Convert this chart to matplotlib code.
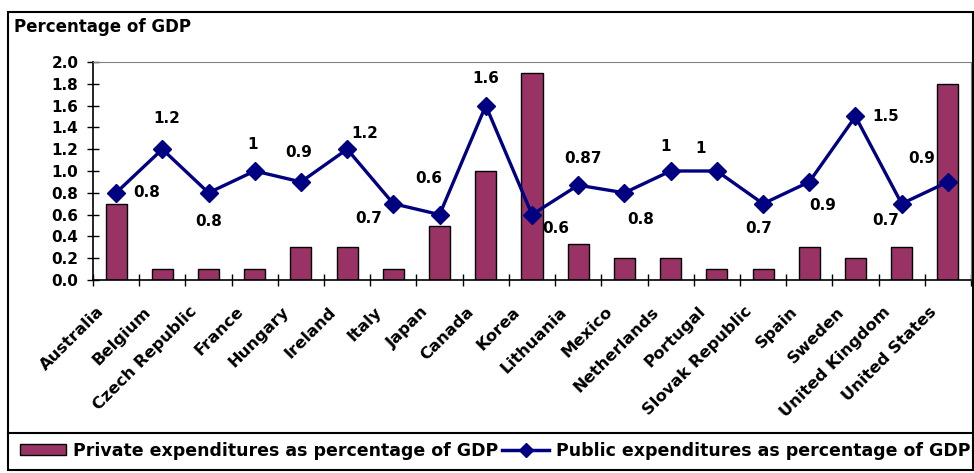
import numpy as np
import matplotlib; matplotlib.use('Agg'); import matplotlib.pyplot as plt
import matplotlib.transforms as mtransforms
from matplotlib.patches import Rectangle
from matplotlib.lines import Line2D

countries = ['Australia', 'Belgium', 'Czech Republic', 'France', 'Hungary', 'Ireland', 'Italy',
             'Japan', 'Canada', 'Korea', 'Lithuania', 'Mexico', 'Netherlands', 'Portugal',
             'Slovak Republic', 'Spain', 'Sweden', 'United Kingdom', 'United States']
private = [0.7, 0.1, 0.1, 0.1, 0.3, 0.3, 0.1, 0.5, 1.0, 1.9, 0.33, 0.2, 0.2, 0.1, 0.1, 0.3, 0.2, 0.3, 1.8]
public = [0.8, 1.2, 0.8, 1.0, 0.9, 1.2, 0.7, 0.6, 1.6, 0.6, 0.87, 0.8, 1.0, 1.0, 0.7, 0.9, 1.5, 0.7, 0.9]
public_labels = ['0.8', '1.2', '0.8', '1', '0.9', '1.2', '0.7', '0.6', '1.6', '0.6', '0.87', '0.8',
                 '1', '1', '0.7', '0.9', '1.5', '0.7', '0.9']
# label offsets (points) relative to each marker
offsets = [(22, 0), (3.5, 22), (0, -21), (-1.5, 19), (-1.5, 21.5), (13, 11.5), (-18, -11), (-8, 26),
           (0, 19.5), (17, -10), (3.5, 19.5), (11.5, -19), (-3.5, 18), (-11.5, 16), (-3, -18),
           (9.5, -17), (22, 0), (-11.5, -12), (-19, 17)]

plt.rcParams['font.family'] = ['DejaVu Sans']
plt.rcParams['font.weight'] = 'bold'

fig = plt.figure(figsize=(9.74, 4.73), dpi=100)
ax = fig.add_axes([93/974, 1-280/473, 878/974, 218/473])
x = np.arange(len(countries))
ax.bar(x, private, width=0.455, color='#993366', edgecolor='black', linewidth=1, zorder=2)
ax.plot(x, public, color='#000080', lw=2.4, marker='D', ms=9, zorder=3)
for xi, yi, t, (dx, dy) in zip(x, public, public_labels, offsets):
    ax.annotate(t, (xi, yi), xytext=(dx, dy), textcoords='offset points',
                ha='center', va='center', fontsize=11, fontweight='bold')

ax.set_xlim(-0.5, len(countries)-0.5)
ax.set_ylim(0, 2.0)
yt = np.arange(0, 2.01, 0.2)
ax.set_yticks(yt)
ax.set_yticklabels([f'{v:.1f}' for v in yt], fontsize=11, fontweight='bold')
ax.tick_params(axis='y', direction='inout', length=9, width=1, pad=6)
ax.set_xticks(x)
ax.set_xticklabels(countries, rotation=45, ha='right', va='center', rotation_mode='anchor',
                   fontsize=11.8, fontweight='bold')
ax.tick_params(axis='x', length=0, pad=21)
shift = mtransforms.ScaledTranslation(-14/100, 0, fig.dpi_scale_trans)
for lab in ax.get_xticklabels():
    lab.set_transform(lab.get_transform() + shift)
ax.set_xticks(np.arange(-0.5, len(countries)), minor=True)
ax.tick_params(axis='x', which='minor', direction='inout', length=9, width=1)
for s in ['top', 'right']:
    ax.spines[s].set_color('#808080')
for s in ['left', 'bottom']:
    ax.spines[s].set_color('black')
    ax.spines[s].set_linewidth(1.2)

fig.text(14/974, 1-27/473, 'Percentage of GDP', fontsize=12, fontweight='bold', va='center')

# outer frame and legend box
fig.add_artist(Rectangle((8/974, 3/473), 965/974, 458/473, transform=fig.transFigure,
                         fill=False, edgecolor='black', lw=1.5))
fig.add_artist(Line2D([8/974, 973/974], [1-433/473, 1-433/473], transform=fig.transFigure,
                      color='black', lw=1.5))
handles = [Rectangle((0, 0), 1, 1, facecolor='#993366', edgecolor='black'),
           Line2D([], [], color='#000080', lw=2.5, marker='D', ms=7)]
fig.legend(handles, ['Private expenditures as percentage of GDP', 'Public expenditures as percentage of GDP'],
           loc='center', bbox_to_anchor=(0.5 + 8/974, 1-451/473), ncol=2, frameon=False,
           prop={'size': 12.5, 'weight': 'bold'}, handlelength=2.7, handletextpad=0.4,
           columnspacing=0.2, handleheight=0.6)

fig.savefig('out.png', dpi=100)
